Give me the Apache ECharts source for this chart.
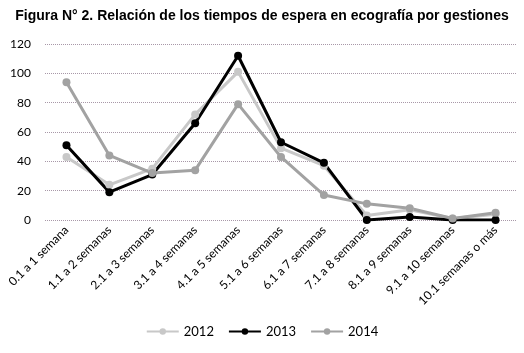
<!DOCTYPE html>
<html>
<head>
<meta charset="utf-8">
<script src="https://cdn.jsdelivr.net/npm/echarts@6/dist/echarts.min.js"></script>
<style>
  html, body { margin: 0; padding: 0; background: #fff; }
  #chart { width: 524px; height: 353px; }
</style>
</head>
<body>
<div id="chart"></div>
<script>
// categorias del eje x
var categorias = ['0.1 a 1 semana', '1.1 a 2 semanas', '2.1 a 3 semanas', '3.1 a 4 semanas',
  '4.1 a 5 semanas', '5.1 a 6 semanas', '6.1 a 7 semanas', '7.1 a 8 semanas',
  '8.1 a 9 semanas', '9.1 a 10 semanas', '10.1 semanas o más'];

var gestion2012 = [43, 24, 35, 72, 101, 49, 37, 3, 7, 1, 4];
var gestion2013 = [51, 19, 31, 66, 112, 53, 39, 0, 2, 0, 0];
var gestion2014 = [94, 44, 32, 34, 79, 43, 17, 11, 8, 1, 5];

var chart = echarts.init(document.getElementById('chart'));

function serie(nombre, datos, color) {
  return {
    name: nombre,
    type: 'line',
    data: datos,
    symbol: 'circle',
    symbolSize: 8,
    lineStyle: { width: 3, color: color },
    itemStyle: { color: color },
    animation: false
  };
}

chart.setOption({
  title: {
    text: 'Figura N° 2. Relación de los tiempos de espera en ecografía por gestiones',
    left: 'center',
    top: 4,
    textStyle: { fontFamily: 'Liberation Sans', fontWeight: 'bold', fontSize: 14, color: '#000' }
  },
  legend: {
    bottom: 10,
    left: 'center',
    itemWidth: 32,
    itemHeight: 8,
    itemGap: 14,
    textStyle: { fontFamily: 'Lato', fontSize: 13, color: '#000' },
    data: ['2012', '2013', '2014']
  },
  grid: { left: 45, right: 7, top: 44, bottom: 133 },
  xAxis: {
    type: 'category',
    data: categorias,
    boundaryGap: true,
    axisLine: { show: false },
    axisTick: { show: false },
    axisLabel: {
      rotate: 45,
      interval: 0,
      margin: 8,
      fontFamily: 'Lato',
      fontSize: 12,
      color: '#000'
    }
  },
  yAxis: {
    type: 'value',
    min: 0,
    max: 120,
    interval: 20,
    axisLine: { show: false },
    axisTick: { show: false },
    axisLabel: { fontFamily: 'Lato', fontSize: 12, color: '#000', margin: 14 },
    splitLine: { lineStyle: { color: '#a898a8', type: 'dotted', width: 1 } }
  },
  series: [
    serie('2012', gestion2012, '#c8c8c8'),
    serie('2013', gestion2013, '#000000'),
    serie('2014', gestion2014, '#a2a2a2')
  ]
});
</script>
</body>
</html>
